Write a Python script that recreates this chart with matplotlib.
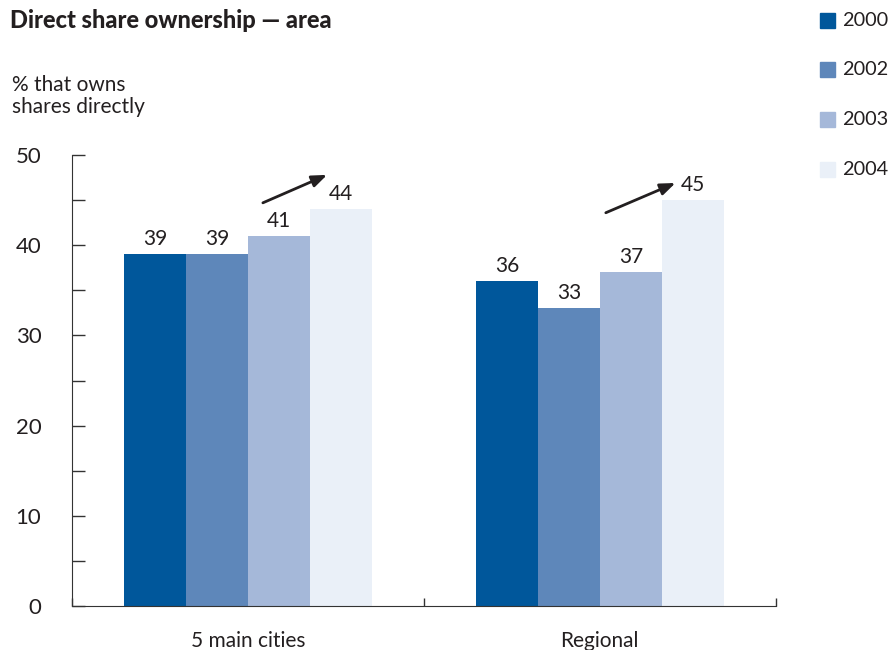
import matplotlib.pyplot as plt
from matplotlib.ticker import MultipleLocator

# Данные
areas = ['5 main cities', 'Regional']
years = ['2000', '2002', '2003', '2004']
values = {
    '2000': [39, 36],
    '2002': [39, 33],
    '2003': [41, 37],
    '2004': [44, 45],
}
colors = ['#00579b', '#5e87ba', '#a5b8d9', '#eaf0f8']

# стрелки роста (2003 -> 2004), в координатах данных
arrows = [((0.085, 44.7), (0.45, 47.8)),
          ((2.034, 43.6), (2.43, 46.9))]

plt.rcParams['font.family'] = ['Lato', 'DejaVu Sans']
txt = '#231f20'

fig = plt.figure(figsize=(8.92, 6.5), dpi=100)
ax = fig.add_axes([0.0807, 0.0677, 0.789, 0.6938])

w = 0.352
centers = [0, 2]
for i, y in enumerate(years):
    xs = [c + (i - 1.5) * w for c in centers]
    ax.bar(xs, values[y], width=w, color=colors[i], label=y, zorder=2)
    for x, v in zip(xs, values[y]):
        ax.text(x, v + 0.6, str(v), ha='center', va='bottom',
                fontsize=15, color=txt)

for start, end in arrows:
    ax.annotate('', xy=end, xytext=start,
                arrowprops=dict(arrowstyle='-|>,head_length=0.9,head_width=0.35',
                                color='#231f20', lw=2, shrinkA=0, shrinkB=0))

ax.set_xlim(-1, 3)
ax.set_ylim(0, 50)
ax.set_xticks([-1, 0, 1, 2, 3])
ax.set_xticklabels(['', areas[0], '', areas[1], ''])
ax.yaxis.set_major_locator(MultipleLocator(10))
ax.yaxis.set_minor_locator(MultipleLocator(5))
ax.tick_params(axis='y', which='both', direction='in', length=9, width=1,
               color='#333333', labelsize=16, labelcolor=txt, pad=22)
ax.tick_params(axis='x', direction='in', length=6, width=1, color='#333333',
               labelsize=15, labelcolor=txt, pad=18)
for s in ['top', 'right']:
    ax.spines[s].set_visible(False)
for s in ['left', 'bottom']:
    ax.spines[s].set_color('#333333')

fig.text(0.011, 0.969, 'Direct share ownership — area', fontsize=17,
         fontweight='black', color=txt, va='center')
fig.text(0.013, 0.852, '% that owns\nshares directly', fontsize=15,
         color=txt, va='center', linespacing=1.15)

# легенда
for i, y in enumerate(years):
    yy = 0.969 - i * 0.0765
    fig.patches.append(plt.Rectangle((0.9195, yy - 0.0115), 0.0168, 0.023,
                                     transform=fig.transFigure,
                                     color=colors[i], figure=fig))
    fig.text(0.944, yy, y, fontsize=14.3, color=txt, va='center')

plt.savefig('out.png', dpi=100)
